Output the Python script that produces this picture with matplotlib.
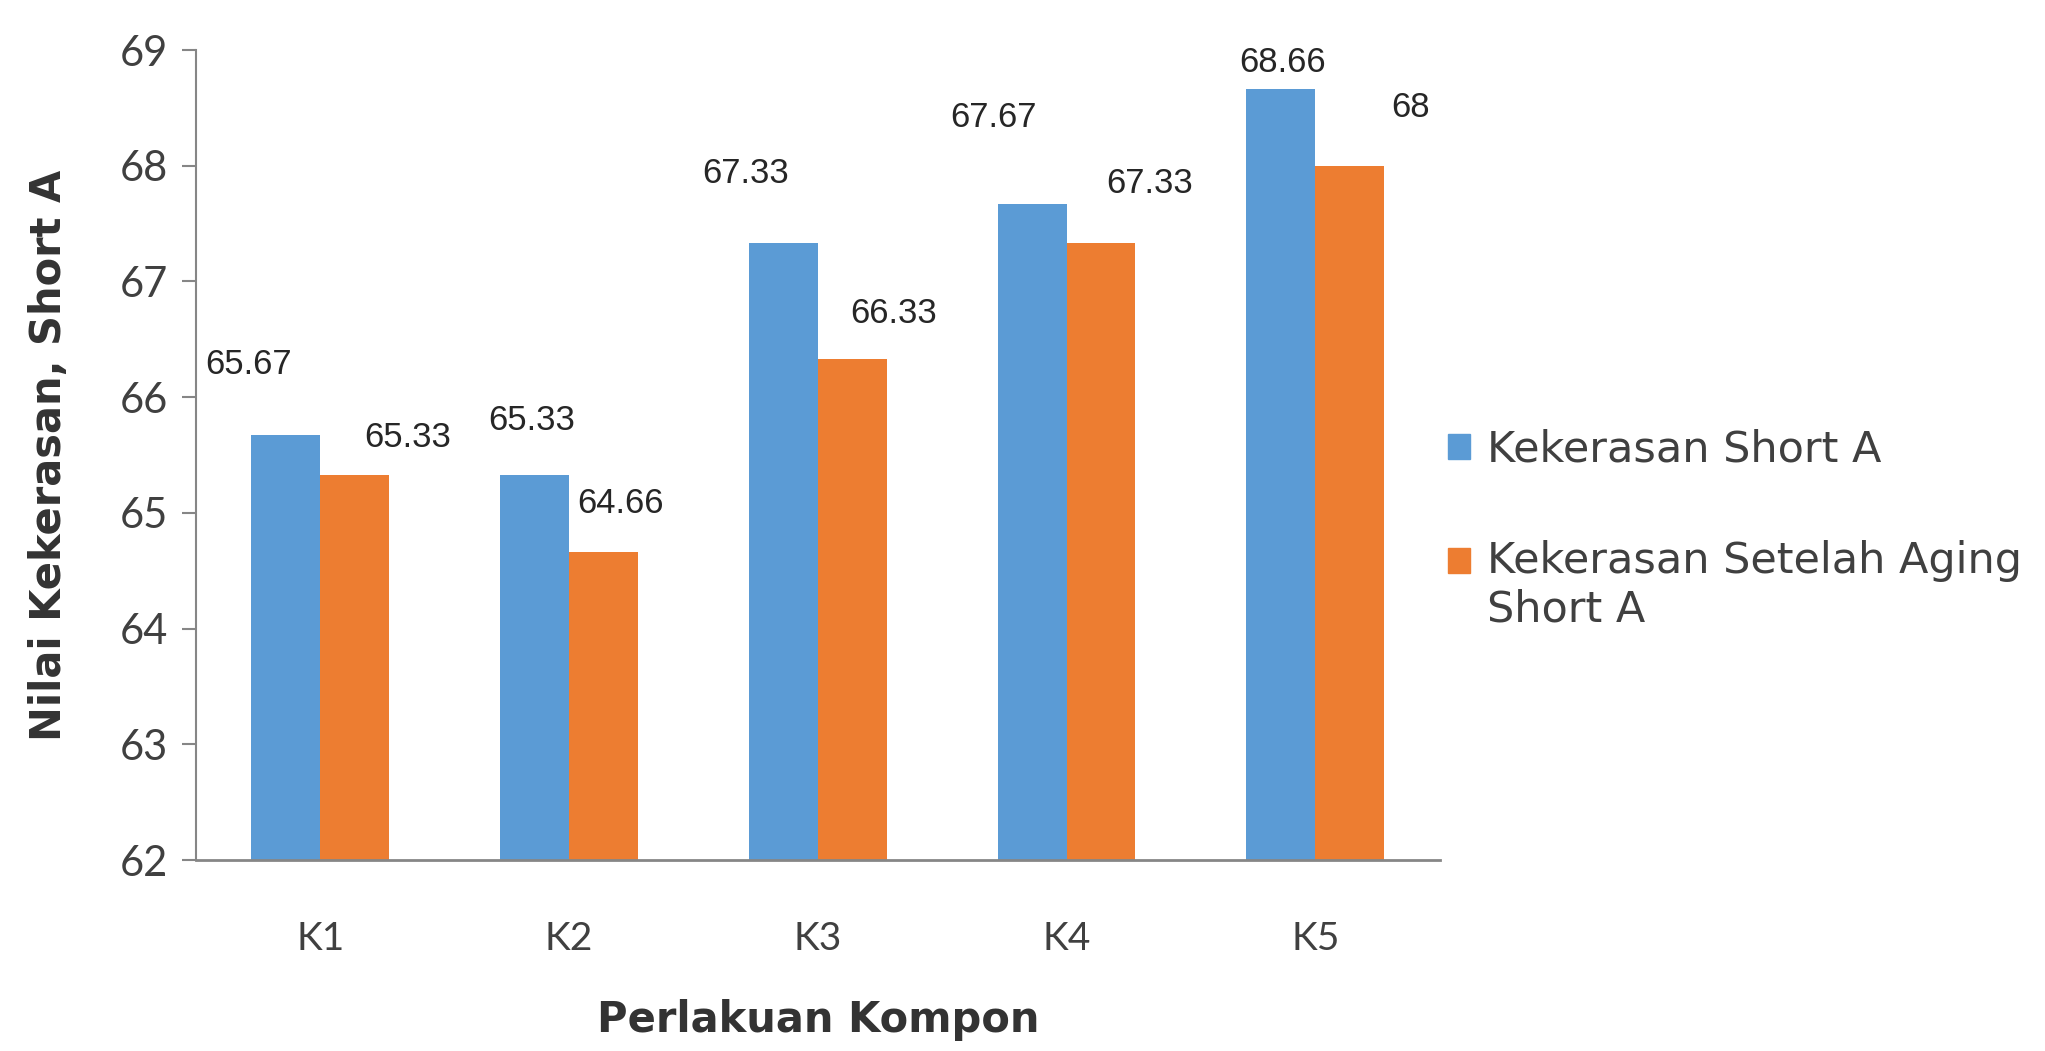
import numpy as np
import matplotlib.pyplot as plt
from matplotlib.patches import Patch

categories = ["K1", "K2", "K3", "K4", "K5"]
short_a = [65.67, 65.33, 67.33, 67.67, 68.66]
aging_short_a = [65.33, 64.66, 66.33, 67.33, 68]
short_a_text = ["65.67", "65.33", "67.33", "67.67", "68.66"]
aging_text = ["65.33", "64.66", "66.33", "67.33", "68"]

# label offsets in points (dx, dy) from the bar top, as placed in the original
short_a_off = [(-27, 51), (-2, 39), (-27, 50), (-28, 62), (1, 19)]
aging_off = [(38, 27), (12, 35), (30, 33), (35, 43), (44, 42)]

blue = "#5B9BD5"
orange = "#ED7D31"
text_c = "#404040"
axis_c = "#868686"

plt.rcParams["font.family"] = ["Lato", "DejaVu Sans"]

fig = plt.figure(figsize=(20.45, 10.51), dpi=100)
ax = fig.add_axes([0.0958, 0.1817, 0.6082, 0.7707])

x = np.arange(len(categories))
w = 0.277

ax.bar(x - w / 2, np.array(short_a) - 62, width=w, bottom=62, color=blue)
ax.bar(x + w / 2, np.array(aging_short_a) - 62, width=w, bottom=62, color=orange)

for i in range(len(categories)):
    ax.annotate(short_a_text[i], (x[i] - w / 2, short_a[i]), xytext=short_a_off[i],
                textcoords="offset points", ha="center", va="center",
                fontsize=25, color="#262626", family="Liberation Sans")
    ax.annotate(aging_text[i], (x[i] + w / 2, aging_short_a[i]), xytext=aging_off[i],
                textcoords="offset points", ha="center", va="center",
                fontsize=25, color="#262626", family="Liberation Sans")

ax.set_xlim(-0.5, 4.5)
ax.set_ylim(62, 69)
ax.set_yticks(range(62, 70))
ax.set_xticks(x)
ax.set_xticklabels(categories)

for s in ["top", "right"]:
    ax.spines[s].set_visible(False)
ax.spines["left"].set_color(axis_c)
ax.spines["bottom"].set_color(axis_c)
ax.spines["left"].set_linewidth(1.5)
ax.spines["bottom"].set_linewidth(2)

ax.tick_params(axis="y", length=10, width=1.5, color=axis_c, labelsize=30,
               labelcolor=text_c, pad=10)
ax.tick_params(axis="x", length=0, labelsize=28, labelcolor=text_c, pad=44)

ax.set_xlabel("Perlakuan Kompon", fontsize=30, fontweight="bold", color="#333333",
              family="DejaVu Sans", labelpad=30)
ax.set_ylabel("Nilai Kekerasan, Short A", fontsize=30, fontweight="bold",
              color="#333333", family="DejaVu Sans", labelpad=36)

handles = [Patch(color=blue), Patch(color=orange)]
labels = ["Kekerasan Short A", "Kekerasan Setelah Aging\nShort A"]
leg = fig.legend(handles, labels, loc="center left", bbox_to_anchor=(0.708, 0.496),
                 frameon=False, prop={"family": "DejaVu Sans", "size": 31},
                 handlelength=0.52, handleheight=0.52,
                 handletextpad=0.4, labelspacing=1.6, borderpad=0, borderaxespad=0,
                 labelcolor=text_c)
# line the second marker up with the first line of its label, as Excel does
h = leg.legend_handles[1]
h.set_y(h.get_y() + 0.6 * 31)

fig.savefig("out.png", dpi=100, facecolor="white")
